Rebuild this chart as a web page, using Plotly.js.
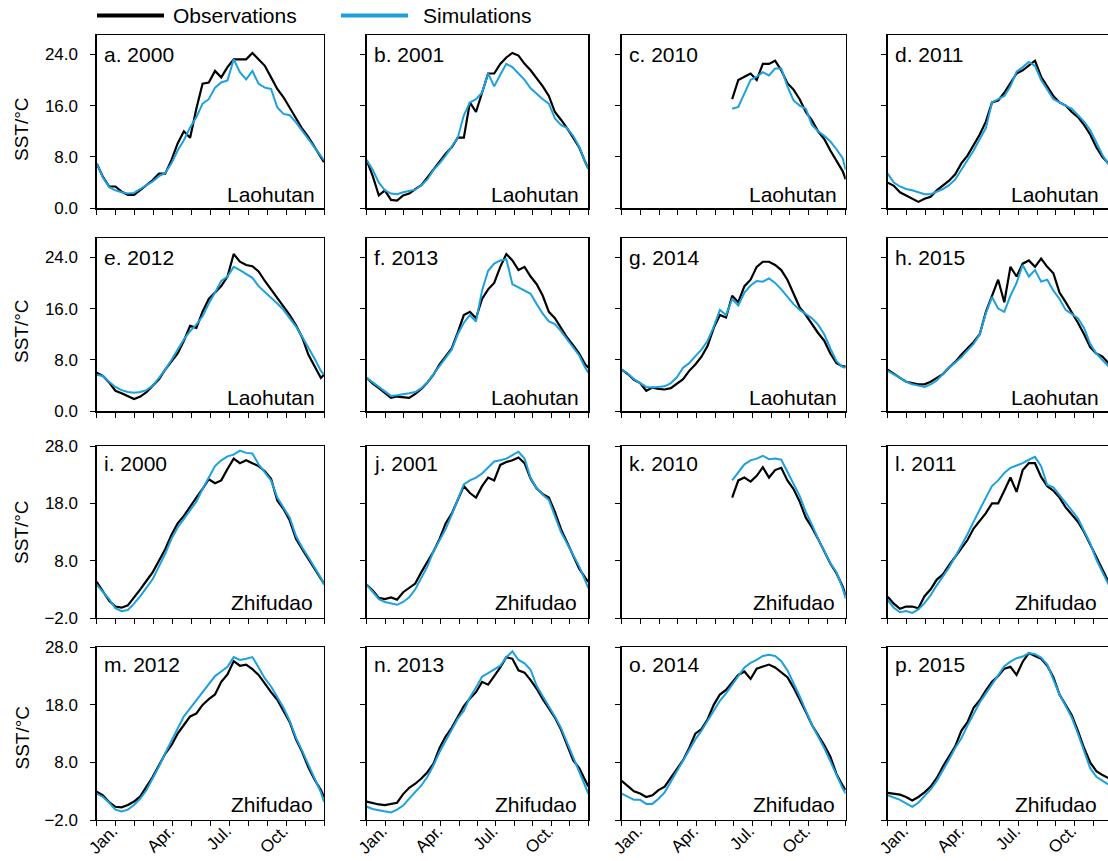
<!DOCTYPE html>
<html>
<head>
<meta charset="utf-8">
<script src="https://cdn.plot.ly/plotly-3.0.1.min.js"></script>
<style>
  html, body { margin: 0; padding: 0; background: #ffffff; }
  #chart { width: 1108px; height: 861px; }
</style>
</head>
<body>
<div id="chart"></div>
<script>
// ---------------- DATA ----------------
const days = [0,10,20,30,40,50,60,70,80,90,100,110,120,130,140,150,160,170,180,190,200,210,220,230,240,250,260,270,280,290,300,310,320,330,340,350,360,365];

const monthTickDays = [0,30.42,60.83,91.25,121.67,152.08,182.5,212.92,243.33,273.75,304.17,334.58,365];
const monthTickText = ["","Jan.","","","Apr.","","","Jul.","","","Oct.","",""];

const panelLabels = ["a. 2000","b. 2001","c. 2010","d. 2011",
                     "e. 2012","f. 2013","g. 2014","h. 2015",
                     "i. 2000","j. 2001","k. 2010","l. 2011",
                     "m. 2012","n. 2013","o. 2014","p. 2015"];
const stationNames = ["Laohutan","Laohutan","Zhifudao","Zhifudao"];
const seriesNames = ["Observations","Simulations"];
const yTickValsLaohutan = [0,8,16,24];
const yTickValsZhifudao = [-2,8,18,28];
const yTitle = "SST/°C";

// Laohutan
const obs_a = [7.0,4.9,3.4,3.4,2.6,2.1,2.1,2.8,3.6,4.4,5.4,5.4,7.5,10.1,12.0,11.0,15.5,19.4,19.6,21.4,20.4,22.0,23.2,23.2,23.2,24.2,23.2,22.2,20.4,18.6,17.3,15.7,13.9,12.4,11.1,9.5,8.0,7.2];
const sim_a = [7.0,4.8,3.3,2.8,2.5,2.3,2.4,3.0,3.5,4.2,5.0,5.5,7.0,9.0,10.6,12.6,14.2,16.3,17.0,18.8,19.6,19.9,23.2,21.2,20.1,21.4,19.4,18.8,18.6,15.7,14.7,14.5,13.4,12.1,10.8,9.5,8.3,7.5];
const obs_b = [7.5,5.0,2.0,2.8,1.3,1.2,2.0,2.3,3.0,3.6,4.8,6.0,7.2,8.5,9.5,11.0,11.0,16.5,15.0,18.0,21.0,21.0,22.5,23.5,24.2,23.8,22.5,21.5,20.3,19.0,17.5,15.0,13.8,12.5,11.0,9.5,7.2,6.2];
const sim_b = [7.5,6.0,4.0,2.8,2.3,2.2,2.5,2.7,2.9,3.6,4.5,6.0,7.0,8.2,9.5,11.0,14.5,16.5,17.0,18.0,21.0,19.0,20.8,22.5,22.0,21.0,20.0,18.7,17.8,17.0,16.3,14.0,13.0,12.5,11.3,9.6,7.2,6.2];
const obs_c = [null,null,null,null,null,null,null,null,null,null,null,null,null,null,null,null,null,null,17.0,20.0,20.5,21.0,20.0,22.5,22.5,23.0,21.5,19.5,18.5,17.0,15.0,13.7,12.0,10.8,9.0,7.5,5.8,4.5];
const sim_c = [null,null,null,null,null,null,null,null,null,null,null,null,null,null,null,null,null,null,15.5,15.8,17.9,20.0,20.5,21.2,20.7,21.8,21.8,19.0,16.8,16.0,15.5,13.0,12.0,11.3,10.4,9.2,7.8,6.0];
const obs_d = [4.0,3.5,2.5,2.0,1.5,1.0,1.5,1.8,2.8,3.5,4.3,5.3,7.0,8.2,9.8,11.5,13.5,16.5,16.8,18.0,19.5,21.0,21.5,22.2,23.0,20.5,19.0,17.5,16.5,16.0,15.0,14.2,13.0,11.5,9.5,8.0,7.0,6.5];
const sim_d = [5.4,4.0,3.4,3.0,2.8,2.5,2.2,2.2,2.6,3.0,3.6,4.5,6.0,7.5,9.0,10.8,12.5,16.5,17.0,17.5,19.0,21.3,22.0,22.8,22.2,20.0,18.5,17.0,16.5,16.0,15.5,14.5,13.5,12.2,10.3,8.3,6.8,6.3];
const obs_e = [6.0,5.5,4.5,3.2,2.8,2.3,1.9,2.3,3.0,4.0,5.0,6.5,7.8,9.0,11.0,13.3,13.0,15.5,17.5,18.5,19.5,21.0,24.5,23.3,22.8,22.6,21.8,20.3,19.0,17.7,16.3,15.0,13.4,11.5,8.8,7.0,5.2,5.7];
const sim_e = [5.7,5.5,4.6,3.8,3.3,3.0,2.9,3.0,3.3,4.0,5.2,6.5,8.0,9.6,11.2,12.5,13.5,14.8,16.8,18.5,20.3,21.0,22.5,22.0,21.4,20.8,19.5,18.6,17.8,16.8,15.8,14.5,13.2,11.6,10.0,8.2,6.3,5.7];
const obs_f = [5.2,4.3,3.6,2.8,2.1,2.3,2.2,2.1,2.7,3.5,4.5,5.7,7.3,8.5,9.8,12.3,15.0,15.5,14.5,17.5,19.0,20.0,22.5,24.5,23.5,22.0,22.5,21.0,19.8,18.0,15.5,14.5,13.0,11.5,10.3,9.0,7.3,6.8];
const sim_f = [5.2,4.5,3.8,3.0,2.4,2.5,2.6,2.8,3.0,3.6,4.5,5.8,7.0,8.3,9.6,12.0,13.8,15.0,14.0,18.8,21.9,23.0,23.5,23.7,19.8,19.3,18.8,18.3,16.7,15.2,14.0,13.6,12.5,11.2,10.0,8.7,6.8,6.0];
const obs_g = [6.5,5.8,4.9,4.4,3.2,3.7,3.5,3.4,3.6,4.3,5.0,6.3,7.3,8.5,10.2,13.0,15.0,14.6,18.0,17.0,19.5,20.5,22.5,23.3,23.3,22.8,22.0,20.5,18.3,16.2,15.0,13.5,12.2,11.0,9.0,7.5,7.0,7.0];
const sim_g = [6.5,5.9,5.0,4.4,3.8,3.7,3.8,3.9,4.4,5.3,6.8,7.5,8.6,9.6,11.0,13.2,15.8,15.0,17.5,16.5,18.5,19.6,20.3,20.2,20.7,20.0,19.0,17.8,16.7,15.8,15.2,14.5,13.5,12.0,9.8,7.8,6.9,6.8];
const obs_h = [6.5,5.8,5.2,4.6,4.4,4.2,4.2,4.6,5.2,5.8,6.8,7.7,8.8,9.8,10.8,12.0,15.5,18.0,20.5,17.0,22.5,21.0,23.0,23.5,22.5,23.8,22.5,21.5,18.5,17.0,15.5,13.8,12.0,10.0,9.0,8.5,7.5,7.0];
const sim_h = [6.3,5.8,5.2,4.6,4.2,4.0,3.8,4.2,4.8,5.8,6.8,7.6,8.4,9.5,10.5,12.0,15.3,17.8,16.0,15.5,18.0,20.0,22.8,21.0,22.0,20.2,20.5,18.8,17.5,15.8,15.2,14.5,13.0,10.5,9.0,8.0,7.0,6.5];

// Zhifudao
const obs_i = [4.3,2.7,1.0,0.0,-0.2,0.2,1.5,3.0,4.5,6.0,8.0,10.0,12.5,14.5,15.8,17.5,19.0,20.5,22.2,21.5,22.0,24.0,25.8,25.0,25.5,25.0,24.5,23.6,22.3,18.5,17.0,15.0,11.8,10.0,8.3,6.6,5.0,4.0];
const sim_i = [3.8,2.6,1.3,-0.3,-0.8,-0.6,0.5,1.8,3.2,4.8,7.0,9.2,11.8,13.8,15.3,16.8,18.3,20.5,22.6,24.5,25.5,26.2,26.5,27.2,26.8,26.7,24.8,23.5,22.0,19.0,17.2,15.5,12.3,10.3,8.6,6.8,5.0,3.8];
const obs_j = [3.8,2.8,1.5,1.3,1.6,1.2,2.5,3.2,4.0,6.0,7.8,9.6,11.8,14.5,16.2,18.5,21.0,19.8,19.0,21.0,22.5,22.0,24.7,25.2,25.5,26.0,25.0,22.3,20.6,19.6,19.0,16.5,13.5,11.2,8.8,6.6,5.0,4.3];
const sim_j = [3.8,2.5,1.3,0.8,0.5,0.3,0.8,1.6,3.0,5.0,7.0,9.6,11.5,13.5,16.0,18.5,21.3,22.0,22.5,23.2,24.3,25.3,25.5,25.8,26.4,27.0,25.8,22.4,20.6,19.5,18.6,15.8,13.0,11.0,9.0,7.0,4.5,3.2];
const obs_k = [null,null,null,null,null,null,null,null,null,null,null,null,null,null,null,null,null,null,19.0,22.0,22.5,21.8,22.8,24.3,22.5,23.8,24.2,22.0,20.5,18.3,15.5,13.8,11.8,9.7,7.5,5.8,3.5,2.0];
const sim_k = [null,null,null,null,null,null,null,null,null,null,null,null,null,null,null,null,null,null,22.0,23.3,24.8,25.5,25.8,26.3,25.7,25.8,25.6,23.5,21.5,19.3,16.5,14.3,11.8,9.6,7.6,6.0,3.2,1.4];
const obs_l = [1.7,0.5,-0.4,0.0,0.0,-0.3,1.8,3.0,4.7,5.6,7.2,8.6,10.0,11.6,13.6,15.0,16.3,18.0,18.0,20.2,22.5,20.0,23.8,25.0,25.0,22.6,21.0,20.2,19.0,17.3,16.0,14.8,13.0,10.8,8.6,6.5,4.3,3.7];
const sim_l = [1.1,-0.2,-1.0,-0.8,-1.1,-0.5,0.6,2.0,3.7,5.2,6.8,8.7,10.6,12.6,14.8,17.0,19.0,21.0,22.0,23.3,24.2,24.6,25.0,25.6,26.1,24.5,21.2,20.8,19.4,18.0,16.6,15.4,13.2,11.0,8.2,6.0,3.8,3.3];
const obs_m = [2.9,2.3,1.1,0.3,0.2,0.6,1.2,2.1,3.8,5.5,7.5,9.5,11.0,13.0,14.5,16.0,16.5,18.0,19.0,19.8,22.0,23.3,25.6,24.8,25.0,24.2,23.2,21.6,20.2,18.9,17.0,15.0,12.0,9.8,7.1,5.0,3.2,2.0];
const sim_m = [2.6,2.0,1.0,-0.2,-0.5,-0.2,0.6,1.7,3.2,5.2,7.3,9.6,11.8,13.8,16.0,17.4,18.8,20.4,21.8,23.0,23.8,24.6,26.3,25.8,26.0,26.3,24.5,22.6,21.2,19.3,17.5,15.2,12.3,10.0,7.5,5.0,2.8,1.2];
const obs_n = [1.2,0.9,0.7,0.6,0.8,1.0,2.5,3.6,4.3,5.2,6.3,7.8,10.5,12.5,14.0,15.8,17.8,19.1,20.2,22.0,21.5,23.0,24.5,26.3,26.0,24.0,23.6,22.3,20.8,19.0,17.5,15.8,13.7,11.0,8.4,7.0,4.8,3.8];
const sim_n = [0.3,-0.1,-0.3,-0.5,-0.7,-0.2,0.5,1.7,2.8,4.0,5.5,7.5,9.8,11.7,13.6,15.6,17.0,19.3,21.0,22.9,23.5,24.1,24.8,26.3,27.3,25.8,25.2,24.1,21.3,19.5,17.8,16.0,14.0,11.5,8.8,6.5,4.0,2.6];
const obs_o = [4.8,3.9,3.0,2.6,2.0,2.3,3.2,3.8,5.3,6.7,8.4,10.5,13.0,13.8,15.5,18.0,19.8,20.6,22.0,23.2,23.8,22.5,24.3,24.6,25.0,24.5,23.6,22.8,21.0,19.0,16.8,14.5,12.8,11.0,9.0,6.0,4.0,3.2];
const sim_o = [2.6,2.0,1.5,1.5,0.8,0.8,1.7,2.8,4.6,6.5,8.4,10.2,12.0,13.5,15.2,17.0,18.7,20.0,21.5,23.0,24.5,25.3,25.8,26.5,26.7,26.5,25.6,24.0,21.8,19.5,17.0,14.5,12.5,10.5,8.2,5.8,3.5,2.6];
const obs_p = [2.7,2.6,2.4,2.0,1.4,2.0,2.8,3.8,5.3,7.3,9.0,10.8,13.5,15.0,17.5,18.8,20.5,22.0,23.0,24.3,24.6,23.2,25.5,27.0,26.5,26.0,24.8,22.8,19.8,18.0,16.2,13.5,10.5,8.0,6.5,5.8,5.3,5.0];
const sim_p = [2.3,1.9,1.5,0.9,0.3,1.0,2.2,3.3,4.8,6.6,8.5,10.5,12.2,14.4,16.5,18.4,20.0,21.5,23.2,24.7,25.5,26.1,26.4,27.0,26.8,26.2,25.0,22.5,19.8,17.8,15.8,13.0,10.0,7.0,5.5,4.8,4.0,3.8];

const obsSeries = [obs_a,obs_b,obs_c,obs_d,obs_e,obs_f,obs_g,obs_h,obs_i,obs_j,obs_k,obs_l,obs_m,obs_n,obs_o,obs_p];
const simSeries = [sim_a,sim_b,sim_c,sim_d,sim_e,sim_f,sim_g,sim_h,sim_i,sim_j,sim_k,sim_l,sim_m,sim_n,sim_o,sim_p];

// ---------------- LAYOUT / STYLE ----------------
const W = 1108, H = 861;
const FONT = "Arial, 'Liberation Sans', Helvetica, sans-serif";
const OBS_COLOR = "#000000";
const SIM_COLOR = "#1da1de";
const colL = [96.7, 366.7, 621.7, 887.7];
const colR = [324.0, 588.3, 845.7, 1108.0];
const rowT = [35.0, 238.0, 446.0, 647.3];
const rowB = [208.3, 411.3, 618.0, 820.0];

const traces = [];
const layout = {
  width: W, height: H,
  margin: {l: 0, r: 0, t: 0, b: 0, pad: 0},
  paper_bgcolor: "#ffffff",
  plot_bgcolor: "rgba(0,0,0,0)",
  showlegend: false,
  font: {family: FONT, color: "#000000"},
  annotations: [],
  shapes: []
};

for (let i = 0; i < 16; i++) {
  const r = Math.floor(i / 4), c = i % 4;
  const id = i === 0 ? "" : String(i + 1);
  traces.push({
    x: days, y: obsSeries[i], xaxis: "x" + id, yaxis: "y" + id,
    type: "scatter", mode: "lines", name: seriesNames[0],
    line: {color: OBS_COLOR, width: 2.2}, connectgaps: false, hoverinfo: "skip"
  });
  traces.push({
    x: days, y: simSeries[i], xaxis: "x" + id, yaxis: "y" + id,
    type: "scatter", mode: "lines", name: seriesNames[1],
    line: {color: SIM_COLOR, width: 2}, connectgaps: false, hoverinfo: "skip"
  });

  const isZ = r >= 2;
  layout["xaxis" + id] = {
    domain: [colL[c] / W, colR[c] / W],
    anchor: "y" + id,
    range: c === 3 ? [0, 359] : [0, 365],
    tickmode: "array",
    tickvals: monthTickDays,
    ticktext: monthTickText,
    showticklabels: r === 3,
    tickangle: -45,
    ticklabelstandoff: -12,
    ticklabelshift: -3,
    tickfont: {family: FONT, size: 17, color: "#000"},
    ticks: "outside", ticklen: 5, tickwidth: 1, tickcolor: "#000",
    showline: true, linecolor: "#000", linewidth: 1.3, mirror: true,
    showgrid: false, zeroline: false, fixedrange: true
  };
  layout["yaxis" + id] = {
    domain: [1 - rowB[r] / H, 1 - rowT[r] / H],
    anchor: "x" + id,
    range: isZ ? [-2, 28] : [0, 27],
    tickmode: "array",
    tickvals: isZ ? yTickValsZhifudao : yTickValsLaohutan,
    tickformat: ".1f",
    showticklabels: c === 0,
    ticklabelstandoff: 9,
    tickfont: {family: FONT, size: 17, color: "#000"},
    ticks: "outside", ticklen: 5, tickwidth: 1, tickcolor: "#000",
    showline: true, linecolor: "#000", linewidth: 1.3, mirror: c !== 3,
    showgrid: false, zeroline: false, fixedrange: true
  };

  // panel label
  layout.annotations.push({
    text: panelLabels[i], showarrow: false,
    xref: "x" + id + " domain", yref: "y" + id + " domain",
    x: 0, y: 1, xanchor: "left", yanchor: "middle",
    xshift: 5, yshift: isZ ? -17.5 : -19.5,
    font: {family: FONT, size: 21, color: "#000"}
  });
  // station label
  layout.annotations.push({
    text: stationNames[r], showarrow: false,
    xref: "x" + id + " domain", yref: "y" + id + " domain",
    x: 1, y: 0, xanchor: "right", yanchor: "middle",
    xshift: isZ ? -9 : -7, yshift: isZ ? 15.5 : 13.5,
    font: {family: FONT, size: 21, color: "#000"}
  });
}

// y-axis titles (one per row)
const yTitleCenters = [129.5, 331.5, 532.5, 738.0];
for (let r = 0; r < 4; r++) {
  layout.annotations.push({
    text: yTitle, showarrow: false, textangle: -90,
    xref: "paper", yref: "paper",
    x: 21.5 / W, y: 1 - yTitleCenters[r] / H,
    xanchor: "center", yanchor: "middle",
    font: {family: FONT, size: 19, color: "#000"}
  });
}

// legend drawn at top
const legY = 1 - 15.5 / H;
layout.shapes.push({type: "line", xref: "paper", yref: "paper",
  x0: 97 / W, x1: 164 / W, y0: legY, y1: legY, line: {color: OBS_COLOR, width: 4}});
layout.shapes.push({type: "line", xref: "paper", yref: "paper",
  x0: 341 / W, x1: 408 / W, y0: legY, y1: legY, line: {color: SIM_COLOR, width: 4}});
layout.annotations.push({text: seriesNames[0], showarrow: false, xref: "paper", yref: "paper",
  x: 171 / W, y: legY, xanchor: "left", yanchor: "middle",
  font: {family: FONT, size: 21, color: "#000"}});
layout.annotations.push({text: seriesNames[1], showarrow: false, xref: "paper", yref: "paper",
  x: 421 / W, y: legY, xanchor: "left", yanchor: "middle",
  font: {family: FONT, size: 21, color: "#000"}});

Plotly.newPlot("chart", traces, layout, {staticPlot: true, displayModeBar: false});
</script>
</body>
</html>
